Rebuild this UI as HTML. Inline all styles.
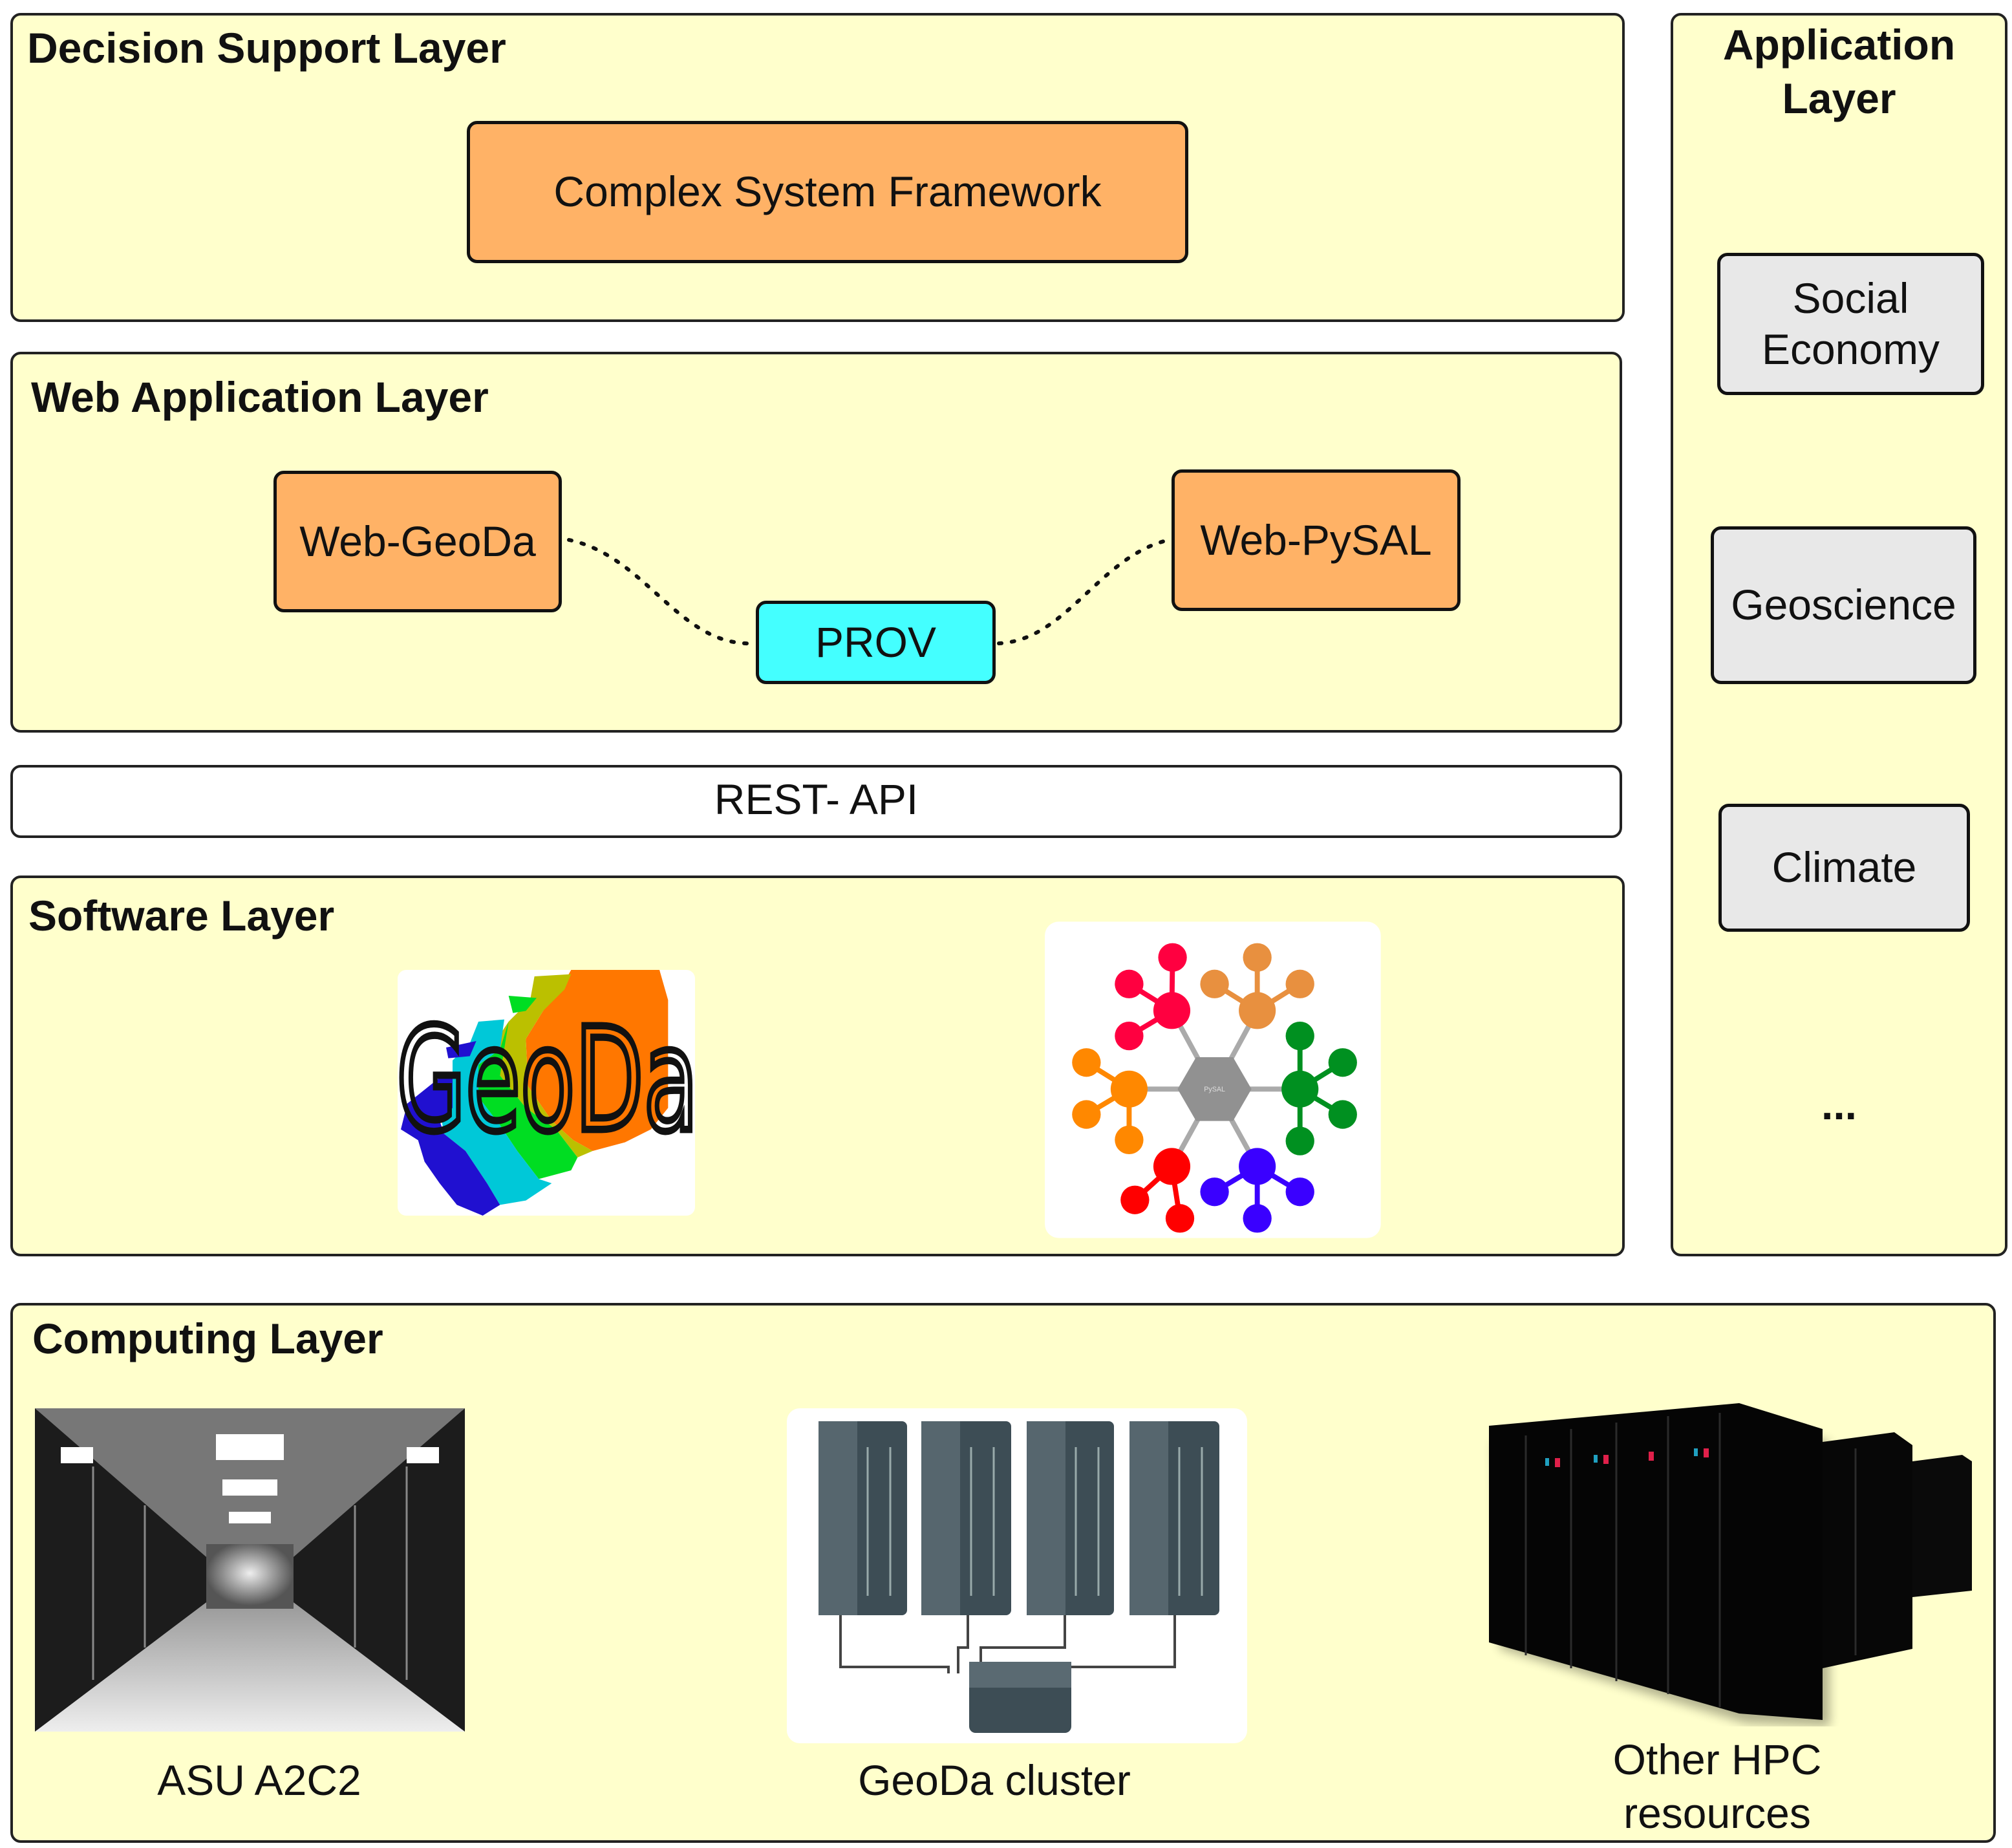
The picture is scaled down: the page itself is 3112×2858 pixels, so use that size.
<!DOCTYPE html>
<html><head><meta charset="utf-8">
<style>
html,body{margin:0;padding:0;background:#fff;}
body{width:3112px;height:2858px;position:relative;overflow:hidden;font-family:"Liberation Sans",Arial,sans-serif;}
.lay{position:absolute;background:#ffffcc;border:4px solid #222;border-radius:16px;box-sizing:border-box;}
.t{position:absolute;font-weight:bold;font-size:66px;color:#111;white-space:nowrap;}
.box{position:absolute;border:5px solid #111;border-radius:16px;box-sizing:border-box;display:flex;align-items:center;justify-content:center;text-align:center;font-size:66px;color:#111;line-height:1.2;}
.or{background:#ffb266;}
.gr{background:#e8e8e8;}
.lbl{position:absolute;font-size:66px;color:#111;text-align:center;white-space:nowrap;line-height:1.25;}
svg{position:absolute;}
</style></head><body>

<div class="lay" style="left:16px;top:20px;width:2497px;height:478px;"></div>
<div class="t" style="left:42px;top:36px;">Decision Support Layer</div>
<div class="box or" style="left:722px;top:187px;width:1116px;height:220px;">Complex System Framework</div>

<div class="lay" style="left:16px;top:544px;width:2493px;height:589px;"></div>
<div class="t" style="left:48px;top:576px;">Web Application Layer</div>
<div class="box or" style="left:423px;top:728px;width:446px;height:219px;">Web-GeoDa</div>
<div class="box or" style="left:1812px;top:726px;width:447px;height:219px;">Web-PySAL</div>
<div class="box" style="left:1169px;top:929px;width:371px;height:129px;background:#44ffff;">PROV</div>
<svg style="left:0;top:0" width="3112" height="1200">
<path d="M880 835 C 1000 860, 1050 1000, 1165 995" fill="none" stroke="#111" stroke-width="6" stroke-dasharray="4 16" stroke-linecap="round"/>
<path d="M1545 995 C 1650 990, 1700 860, 1808 835" fill="none" stroke="#111" stroke-width="6" stroke-dasharray="4 16" stroke-linecap="round"/>
</svg>

<div class="lay" style="left:16px;top:1183px;width:2493px;height:113px;background:#fff;"></div>
<div class="lbl" style="left:16px;top:1195px;width:2493px;">REST- API</div>

<div class="lay" style="left:16px;top:1354px;width:2497px;height:589px;"></div>
<div class="t" style="left:44px;top:1378px;">Software Layer</div>

<!-- GeoDa logo -->
<svg style="left:600px;top:1480px" width="500" height="420" viewBox="0 0 1500 1260">
<rect x="45" y="60" width="1380" height="1140" rx="40" fill="#fff"/>
<path d="M850 60 L1260 60 L1300 200 L1300 700 L1220 800 L1100 860 L950 900 L860 850 L760 760 L650 600 L640 380 L720 250 L800 150 Z" fill="#ff7700"/>
<path d="M680 90 L850 80 L820 150 L720 250 L640 380 L650 600 L760 760 L860 850 L950 900 L880 930 L780 800 L640 700 L520 550 L480 420 L560 300 L660 200 Z" fill="#bbc000"/>
<path d="M560 180 L690 190 L640 250 L580 260 Z M420 500 L520 430 L560 300 L520 550 L640 700 L780 800 L880 930 L850 990 L700 1030 L600 900 L520 780 L420 650 Z" fill="#00dd22"/>
<path d="M420 300 L540 290 L520 430 L420 500 L420 650 L520 780 L600 900 L700 1030 L760 1050 L640 1130 L520 1150 L460 1050 L360 900 L260 820 L240 700 L300 600 L300 480 L380 400 Z" fill="#00c8d8"/>
<path d="M270 420 L410 390 L380 460 L280 470 Z M90 680 L240 560 L300 560 L300 700 L240 760 L260 820 L360 900 L460 1050 L520 1150 L440 1200 L320 1150 L240 1050 L170 950 L140 850 L60 800 Z" fill="#2010d0"/>
<text x="40" y="800" font-family="DejaVu Sans,sans-serif" font-size="660" fill="none" stroke="#111" stroke-width="34" textLength="1400" lengthAdjust="spacingAndGlyphs">GeoDa</text>
</svg>

<!-- PySAL graph -->
<svg style="left:1600px;top:1420px" width="560" height="500" viewBox="0 0 1568 1400">
<rect x="45" y="15" width="1455" height="1370" rx="60" fill="#fff"/>
<g stroke-width="22">
<line x1="780" y1="740" x2="595" y2="400" stroke="#aaa"/><line x1="780" y1="740" x2="965" y2="400" stroke="#aaa"/>
<line x1="780" y1="740" x2="1150" y2="740" stroke="#aaa"/><line x1="780" y1="740" x2="965" y2="1075" stroke="#aaa"/>
<line x1="780" y1="740" x2="595" y2="1075" stroke="#aaa"/><line x1="780" y1="740" x2="410" y2="740" stroke="#aaa"/>
<g stroke="#ff0040"><line x1="595" y1="400" x2="598" y2="170"/><line x1="595" y1="400" x2="410" y2="285"/><line x1="595" y1="400" x2="410" y2="510"/></g>
<g stroke="#e8903f"><line x1="965" y1="400" x2="965" y2="170"/><line x1="965" y1="400" x2="780" y2="285"/><line x1="965" y1="400" x2="1150" y2="285"/></g>
<g stroke="#009020"><line x1="1150" y1="740" x2="1150" y2="510"/><line x1="1150" y1="740" x2="1335" y2="625"/><line x1="1150" y1="740" x2="1335" y2="850"/><line x1="1150" y1="740" x2="1150" y2="965"/></g>
<g stroke="#3a00ff"><line x1="965" y1="1075" x2="780" y2="1185"/><line x1="965" y1="1075" x2="965" y2="1300"/><line x1="965" y1="1075" x2="1150" y2="1185"/></g>
<g stroke="#ff0000"><line x1="595" y1="1075" x2="435" y2="1220"/><line x1="595" y1="1075" x2="630" y2="1300"/></g>
<g stroke="#ff8800"><line x1="410" y1="740" x2="225" y2="625"/><line x1="410" y1="740" x2="225" y2="850"/><line x1="410" y1="740" x2="410" y2="960"/></g>
</g>
<polygon points="940,740 860,878 700,878 620,740 700,602 860,602" fill="#919191"/>
<g fill="#ff0040"><circle cx="595" cy="400" r="80"/><circle cx="598" cy="170" r="62"/><circle cx="410" cy="285" r="62"/><circle cx="410" cy="510" r="62"/></g>
<g fill="#e8903f"><circle cx="965" cy="400" r="80"/><circle cx="965" cy="170" r="62"/><circle cx="780" cy="285" r="62"/><circle cx="1150" cy="285" r="62"/></g>
<g fill="#009020"><circle cx="1150" cy="740" r="80"/><circle cx="1150" cy="510" r="62"/><circle cx="1335" cy="625" r="62"/><circle cx="1335" cy="850" r="62"/><circle cx="1150" cy="965" r="62"/></g>
<g fill="#3a00ff"><circle cx="965" cy="1075" r="80"/><circle cx="780" cy="1185" r="62"/><circle cx="965" cy="1300" r="62"/><circle cx="1150" cy="1185" r="62"/></g>
<g fill="#ff0000"><circle cx="595" cy="1075" r="80"/><circle cx="435" cy="1220" r="62"/><circle cx="630" cy="1300" r="62"/></g>
<g fill="#ff8800"><circle cx="410" cy="740" r="80"/><circle cx="225" cy="625" r="62"/><circle cx="225" cy="850" r="62"/><circle cx="410" cy="960" r="62"/></g>
<text x="780" y="750" font-size="30" fill="#ddd" text-anchor="middle">PySAL</text>
</svg>

<!-- Application layer -->
<div class="lay" style="left:2584px;top:20px;width:521px;height:1923px;"></div>
<div class="t" style="left:2584px;top:28px;width:521px;text-align:center;line-height:1.25;">Application<br>Layer</div>
<div class="box gr" style="left:2656px;top:391px;width:413px;height:220px;">Social<br>Economy</div>
<div class="box gr" style="left:2646px;top:814px;width:411px;height:244px;">Geoscience</div>
<div class="box gr" style="left:2658px;top:1243px;width:389px;height:198px;">Climate</div>
<div class="t" style="left:2584px;top:1670px;width:521px;text-align:center;">...</div>

<!-- Computing -->
<div class="lay" style="left:16px;top:2015px;width:3071px;height:835px;"></div>
<div class="t" style="left:50px;top:2032px;">Computing Layer</div>

<svg style="left:54px;top:2178px" width="665" height="500" viewBox="0 0 665 500">
<defs>
<linearGradient id="fl" x1="0" y1="0" x2="0" y2="1"><stop offset="0" stop-color="#999"/><stop offset="1" stop-color="#eee"/></linearGradient>
<radialGradient id="gl" cx="0.5" cy="0.45" r="0.5"><stop offset="0" stop-color="#eee"/><stop offset="1" stop-color="#555"/></radialGradient>
</defs>
<rect width="665" height="500" rx="12" fill="#222"/>
<polygon points="0,0 665,0 400,230 265,230" fill="#777"/>
<polygon points="0,500 665,500 400,300 265,300" fill="url(#fl)"/>
<rect x="265" y="210" width="135" height="100" fill="url(#gl)"/>
<polygon points="0,0 265,230 265,300 0,500" fill="#1c1c1c"/>
<polygon points="665,0 400,230 400,300 665,500" fill="#1c1c1c"/>
<g fill="#fff"><rect x="280" y="40" width="105" height="40"/><rect x="290" y="110" width="85" height="25"/><rect x="300" y="160" width="65" height="18"/><rect x="40" y="60" width="50" height="25"/><rect x="575" y="60" width="50" height="25"/></g>
<g stroke="#888" stroke-width="3"><line x1="90" y1="90" x2="90" y2="420"/><line x1="170" y1="150" x2="170" y2="370"/><line x1="575" y1="90" x2="575" y2="420"/><line x1="495" y1="150" x2="495" y2="370"/></g>
</svg>

<svg style="left:1217px;top:2178px" width="712" height="518" viewBox="0 0 712 518">
<rect width="712" height="518" rx="20" fill="#fff"/>
<g fill="none" stroke="#444" stroke-width="4">
<path d="M83 320 V400 H250 V410"/><path d="M280 320 V370 H265 V410"/><path d="M430 320 V370 H300 V410"/><path d="M600 320 V400 H310 V410"/>
</g>
<g>
<rect x="49" y="20" width="137" height="300" rx="8" fill="#3d4d55"/><rect x="49" y="20" width="60" height="300" fill="#56666e"/>
<rect x="208" y="20" width="139" height="300" rx="8" fill="#3d4d55"/><rect x="208" y="20" width="60" height="300" fill="#56666e"/>
<rect x="371" y="20" width="135" height="300" rx="8" fill="#3d4d55"/><rect x="371" y="20" width="60" height="300" fill="#56666e"/>
<rect x="530" y="20" width="139" height="300" rx="8" fill="#3d4d55"/><rect x="530" y="20" width="60" height="300" fill="#56666e"/>
<rect x="282" y="392" width="158" height="110" rx="10" fill="#3d4d55"/><rect x="282" y="392" width="158" height="40" fill="#5a6a72"/>
</g>
<g stroke="#9aa" stroke-width="3">
<line x1="125" y1="60" x2="125" y2="290"/><line x1="160" y1="60" x2="160" y2="290"/>
<line x1="285" y1="60" x2="285" y2="290"/><line x1="320" y1="60" x2="320" y2="290"/>
<line x1="447" y1="60" x2="447" y2="290"/><line x1="482" y1="60" x2="482" y2="290"/>
<line x1="607" y1="60" x2="607" y2="290"/><line x1="642" y1="60" x2="642" y2="290"/>
</g>
</svg>

<svg style="left:2290px;top:2160px" width="780" height="510" viewBox="0 0 780 510">
<defs><filter id="sh"><feGaussianBlur stdDeviation="8"/></filter></defs>
<polygon points="10,60 400,20 530,60 530,500 400,495 20,380" fill="#000" opacity="0.3" filter="url(#sh)" transform="translate(10,10)"/>
<polygon points="668,100 745,90 760,100 760,300 668,310" fill="#0a0a0a"/>
<polygon points="529,70 640,55 668,75 668,390 529,420" fill="#070707"/>
<polygon points="13,45 400,10 529,50 529,500 400,490 13,380" fill="#050505"/>
<g stroke="#2a2a2a" stroke-width="3"><line x1="70" y1="60" x2="70" y2="400"/><line x1="140" y1="50" x2="140" y2="420"/><line x1="210" y1="40" x2="210" y2="440"/><line x1="290" y1="30" x2="290" y2="460"/><line x1="370" y1="25" x2="370" y2="480"/><line x1="580" y1="80" x2="580" y2="400"/></g>
<g fill="#e0204a"><rect x="115" y="95" width="8" height="14"/><rect x="190" y="90" width="8" height="14"/><rect x="260" y="85" width="8" height="14"/><rect x="345" y="80" width="8" height="14"/></g>
<g fill="#20a0c0"><rect x="100" y="95" width="6" height="12"/><rect x="175" y="90" width="6" height="12"/><rect x="330" y="80" width="6" height="12"/></g>
</svg>

<div class="lbl" style="left:101px;top:2712px;width:600px;">ASU A2C2</div>
<div class="lbl" style="left:1238px;top:2712px;width:600px;">GeoDa cluster</div>
<div class="lbl" style="left:2356px;top:2680px;width:600px;">Other HPC<br>resources</div>

</body></html>
